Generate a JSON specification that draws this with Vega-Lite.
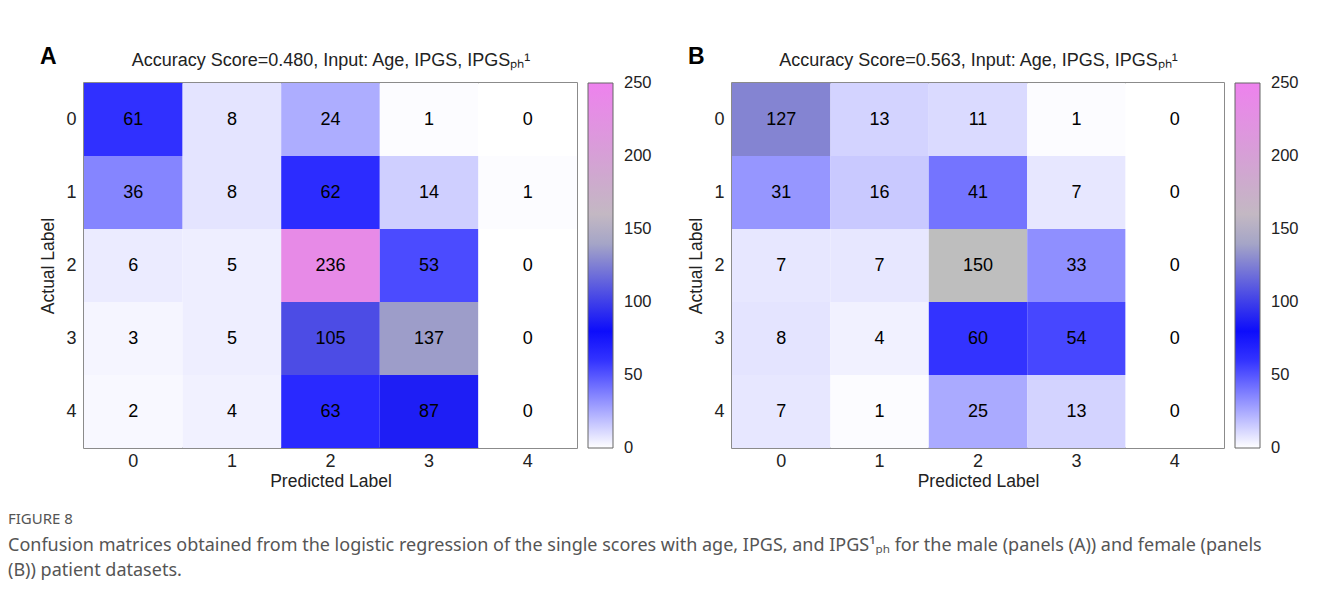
{
  "$schema": "https://vega.github.io/schema/vega-lite/v6.json",
  "background": "white",
  "padding": {"left": 8, "top": 45, "right": 5, "bottom": 5},
  "datasets": {
    "A": [
      {"actual": 0, "predicted": 0, "count": 61}, {"actual": 0, "predicted": 1, "count": 8}, {"actual": 0, "predicted": 2, "count": 24}, {"actual": 0, "predicted": 3, "count": 1}, {"actual": 0, "predicted": 4, "count": 0},
      {"actual": 1, "predicted": 0, "count": 36}, {"actual": 1, "predicted": 1, "count": 8}, {"actual": 1, "predicted": 2, "count": 62}, {"actual": 1, "predicted": 3, "count": 14}, {"actual": 1, "predicted": 4, "count": 1},
      {"actual": 2, "predicted": 0, "count": 6}, {"actual": 2, "predicted": 1, "count": 5}, {"actual": 2, "predicted": 2, "count": 236}, {"actual": 2, "predicted": 3, "count": 53}, {"actual": 2, "predicted": 4, "count": 0},
      {"actual": 3, "predicted": 0, "count": 3}, {"actual": 3, "predicted": 1, "count": 5}, {"actual": 3, "predicted": 2, "count": 105}, {"actual": 3, "predicted": 3, "count": 137}, {"actual": 3, "predicted": 4, "count": 0},
      {"actual": 4, "predicted": 0, "count": 2}, {"actual": 4, "predicted": 1, "count": 4}, {"actual": 4, "predicted": 2, "count": 63}, {"actual": 4, "predicted": 3, "count": 87}, {"actual": 4, "predicted": 4, "count": 0}
    ],
    "B": [
      {"actual": 0, "predicted": 0, "count": 127}, {"actual": 0, "predicted": 1, "count": 13}, {"actual": 0, "predicted": 2, "count": 11}, {"actual": 0, "predicted": 3, "count": 1}, {"actual": 0, "predicted": 4, "count": 0},
      {"actual": 1, "predicted": 0, "count": 31}, {"actual": 1, "predicted": 1, "count": 16}, {"actual": 1, "predicted": 2, "count": 41}, {"actual": 1, "predicted": 3, "count": 7}, {"actual": 1, "predicted": 4, "count": 0},
      {"actual": 2, "predicted": 0, "count": 7}, {"actual": 2, "predicted": 1, "count": 7}, {"actual": 2, "predicted": 2, "count": 150}, {"actual": 2, "predicted": 3, "count": 33}, {"actual": 2, "predicted": 4, "count": 0},
      {"actual": 3, "predicted": 0, "count": 8}, {"actual": 3, "predicted": 1, "count": 4}, {"actual": 3, "predicted": 2, "count": 60}, {"actual": 3, "predicted": 3, "count": 54}, {"actual": 3, "predicted": 4, "count": 0},
      {"actual": 4, "predicted": 0, "count": 7}, {"actual": 4, "predicted": 1, "count": 1}, {"actual": 4, "predicted": 2, "count": 25}, {"actual": 4, "predicted": 3, "count": 13}, {"actual": 4, "predicted": 4, "count": 0}
    ]
  },
  "title": {
    "text": "FIGURE 8",
    "subtitle": [
      "Confusion matrices obtained from the logistic regression of the single scores with age, IPGS, and IPGS¹ₚₕ for the male (panels (A)) and female (panels",
      "(B)) patient datasets."
    ],
    "orient": "bottom",
    "anchor": "start",
    "frame": "group",
    "dx": -76,
    "offset": 22,
    "font": "Noto Sans",
    "fontSize": 15,
    "fontWeight": "normal",
    "color": "#555555",
    "subtitleFont": "Noto Sans",
    "subtitleFontSize": 18,
    "subtitleColor": "#555555",
    "subtitleLineHeight": 25,
    "subtitlePadding": 10
  },
  "spacing": 34,
  "resolve": {"scale": {"color": "independent"}, "legend": {"color": "independent"}},
  "hconcat": [
    {
      "title": {"text": "A", "anchor": "start", "frame": "bounds", "fontSize": 23, "fontWeight": "bold", "font": "Liberation Sans", "color": "black", "offset": -18},
      "width": 493,
      "height": 365,
      "data": {"name": "A"},
      "layer": [
        {
          "mark": {"type": "rect"},
          "encoding": {
            "x": {"field": "predicted", "type": "ordinal", "scale": {"paddingInner": 0, "paddingOuter": 0}, "axis": {"orient": "bottom", "title": "Predicted Label", "labelPadding": 4, "titlePadding": 2}},
            "y": {"field": "actual", "type": "ordinal", "scale": {"paddingInner": 0, "paddingOuter": 0}, "axis": {"title": "Actual Label", "labelPadding": 8, "titlePadding": 8}},
            "color": {
              "field": "count", "type": "quantitative",
              "scale": {"type": "linear", "domain": [0, 75, 150, 250], "range": ["#ffffff", "#0000ff", "#bebebe", "#ee82ee"], "interpolate": "rgb"},
              "legend": {"type": "gradient", "title": null, "values": [0, 50, 100, 150, 200, 250], "gradientLength": 365, "gradientThickness": 25, "offset": 11, "labelOffset": 11,
                "encode": {"labels": {"update": {"baseline": {"value": "middle"}}}}}
            }
          }
        },
        {
          "mark": {"type": "text", "fontSize": 18, "font": "Liberation Sans", "color": "black"},
          "encoding": {
            "x": {"field": "predicted", "type": "ordinal", "axis": {"orient": "top", "title": "Accuracy Score=0.480, Input: Age, IPGS, IPGSₚₕ¹", "labels": false, "ticks": false, "domain": false, "titleFontSize": 18, "titlePadding": 14}},
            "y": {"field": "actual", "type": "ordinal"},
            "text": {"field": "count", "type": "quantitative"}
          }
        }
      ],
      "resolve": {"axis": {"x": "independent"}}
    },
    {
      "title": {"text": "B", "anchor": "start", "frame": "bounds", "fontSize": 23, "fontWeight": "bold", "font": "Liberation Sans", "color": "black", "offset": -18},
      "width": 492,
      "height": 365,
      "data": {"name": "B"},
      "layer": [
        {
          "mark": {"type": "rect"},
          "encoding": {
            "x": {"field": "predicted", "type": "ordinal", "scale": {"paddingInner": 0, "paddingOuter": 0}, "axis": {"orient": "bottom", "title": "Predicted Label", "labelPadding": 4, "titlePadding": 2}},
            "y": {"field": "actual", "type": "ordinal", "scale": {"paddingInner": 0, "paddingOuter": 0}, "axis": {"title": "Actual Label", "labelPadding": 8, "titlePadding": 8}},
            "color": {
              "field": "count", "type": "quantitative",
              "scale": {"type": "linear", "domain": [0, 75, 150, 250], "range": ["#ffffff", "#0000ff", "#bebebe", "#ee82ee"], "interpolate": "rgb"},
              "legend": {"type": "gradient", "title": null, "values": [0, 50, 100, 150, 200, 250], "gradientLength": 365, "gradientThickness": 25, "offset": 11, "labelOffset": 11,
                "encode": {"labels": {"update": {"baseline": {"value": "middle"}}}}}
            }
          }
        },
        {
          "mark": {"type": "text", "fontSize": 18, "font": "Liberation Sans", "color": "black"},
          "encoding": {
            "x": {"field": "predicted", "type": "ordinal", "axis": {"orient": "top", "title": "Accuracy Score=0.563, Input: Age, IPGS, IPGSₚₕ¹", "labels": false, "ticks": false, "domain": false, "titleFontSize": 18, "titlePadding": 14}},
            "y": {"field": "actual", "type": "ordinal"},
            "text": {"field": "count", "type": "quantitative"}
          }
        }
      ],
      "resolve": {"axis": {"x": "independent"}}
    }
  ],
  "config": {
    "view": {"stroke": "#666666", "strokeWidth": 1.5},
    "axis": {
      "labelFont": "Liberation Sans", "titleFont": "Liberation Sans",
      "labelFontSize": 18, "titleFontSize": 17.5,
      "labelColor": "#222222", "titleColor": "#222222",
      "titleFontWeight": "normal", "ticks": false, "domain": false, "labelAngle": 0, "grid": false
    },
    "legend": {
      "labelFont": "Liberation Sans", "labelFontSize": 16.5, "labelColor": "#222222",
      "gradientStrokeColor": "#666666", "gradientStrokeWidth": 1
    }
  }
}
